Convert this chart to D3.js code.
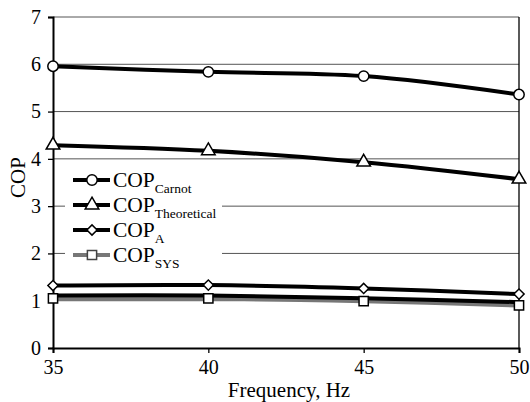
<!DOCTYPE html>
<html lang="en">
<head>
  <meta charset="UTF-8">
  <title>COP vs Frequency</title>
  <script src="https://d3js.org/d3.v7.min.js"></script>
  <style>
    body { margin: 0; background: #fff; }
    svg text { fill: #000; }
  </style>
</head>
<body>
  <div id="chart"></div>
  <script>
    // data
    var freq = [35, 40, 45, 50];
    var copCarnot = [5.96, 5.84, 5.75, 5.36];
    var copTheoretical = [4.29, 4.17, 3.93, 3.57];
    var copA = [1.32, 1.33, 1.26, 1.14];
    var copSys = [1.05, 1.05, 0.99, 0.90];
    var copSysUpper = [1.11, 1.11, 1.05, 0.97]; // black trace sitting on top of the grey one
    var yTicks = [0, 1, 2, 3, 4, 5, 6, 7];
    var xTicks = [35, 40, 45, 50];

    var serif = "'Liberation Serif', 'Times New Roman', serif";

    var margin = { top: 17, right: 11, bottom: 54, left: 53 },
      width = 530 - margin.left - margin.right,
      height = 402 - margin.top - margin.bottom;

    var svg = d3.select("#chart")
      .append("svg")
      .attr("width", 530)
      .attr("height", 402)
      .style("font-family", serif)
      .append("g")
      .attr("transform", "translate(" + margin.left + "," + margin.top + ")");

    var x = d3.scaleLinear().domain([35, 50]).range([0, width]);
    var y = d3.scaleLinear().domain([0, 7]).range([height, 0]);

    // gridlines
    svg.selectAll(".grid")
      .data(yTicks.slice(1))
      .enter()
      .append("line")
      .attr("x1", 0)
      .attr("x2", width)
      .attr("y1", function (d) { return y(d); })
      .attr("y2", function (d) { return y(d); })
      .style("stroke", "#555")
      .style("stroke-width", 1);

    // right frame
    svg.append("line")
      .attr("x1", width).attr("x2", width)
      .attr("y1", 0).attr("y2", height)
      .style("stroke", "#000").style("stroke-width", 1.3);

    // axes
    var yAxis = svg.append("g")
      .call(d3.axisLeft(y).tickValues(yTicks).tickSize(5).tickPadding(7).tickFormat(d3.format("d")));
    var xAxis = svg.append("g")
      .attr("transform", "translate(0," + height + ")")
      .call(d3.axisBottom(x).tickValues(xTicks).tickSize(5).tickPadding(7).tickFormat(d3.format("d")));

    [xAxis, yAxis].forEach(function (a) {
      a.attr("font-family", serif).attr("font-size", 20);
      a.select(".domain").style("stroke", "#000").style("stroke-width", 2);
      a.selectAll(".tick line").style("stroke", "#000").style("stroke-width", 1.3);
      a.selectAll("text").style("font-family", serif).style("font-size", "20px");
    });

    // legend background (hides the gridlines behind it)
    svg.append("rect")
      .attr("x", 12).attr("y", 147)
      .attr("width", 157).attr("height", 103)
      .style("fill", "#fff");

    var series = [
      { name: "Carnot", values: copCarnot, color: "#000", marker: "circle" },
      { name: "Theoretical", values: copTheoretical, color: "#000", marker: "triangle" },
      { name: "A", values: copA, color: "#000", marker: "diamond" },
      { name: "SYS", values: copSys, color: "#777", marker: "square" }
    ];

    var symbols = {
      circle: d3.symbol().type(d3.symbolCircle).size(85),
      triangle: d3.symbol().type(d3.symbolTriangle).size(80),
      diamond: d3.symbol().type(d3.symbolSquare).size(52),
      square: d3.symbol().type(d3.symbolSquare).size(85)
    };
    var rotate = { circle: 0, triangle: 0, diamond: 45, square: 0 };

    var line = d3.line()
      .x(function (d, i) { return x(freq[i]); })
      .y(function (d) { return y(d); })
      .curve(d3.curveCatmullRom.alpha(0.5));

    // lines
    series.forEach(function (s) {
      svg.append("path")
        .attr("d", line(s.values))
        .style("fill", "none")
        .style("stroke", s.color)
        .style("stroke-width", 4);
    });
    svg.append("path")
      .attr("d", line(copSysUpper))
      .style("fill", "none")
      .style("stroke", "#000")
      .style("stroke-width", 4);

    // markers
    series.forEach(function (s) {
      svg.selectAll(null)
        .data(s.values)
        .enter()
        .append("path")
        .attr("d", symbols[s.marker])
        .attr("transform", function (d, i) {
          return "translate(" + x(freq[i]) + "," + y(d) + ") rotate(" + rotate[s.marker] + ")";
        })
        .style("fill", "#fff")
        .style("stroke", "#000")
        .style("stroke-width", 1.5);
    });

    // legend
    var legend = svg.selectAll(".legend")
      .data(series)
      .enter()
      .append("g")
      .attr("transform", function (d, i) { return "translate(20," + (163 + i * 25) + ")"; });

    legend.append("line")
      .attr("x1", 0).attr("x2", 37)
      .style("stroke", function (d) { return d.color; })
      .style("stroke-width", 4);
    legend.append("path")
      .attr("d", function (d) { return symbols[d.marker](); })
      .attr("transform", function (d) { return "translate(19,0) rotate(" + rotate[d.marker] + ")"; })
      .style("fill", "#fff")
      .style("stroke", function (d) { return d.marker === "square" ? "#444" : "#000"; })
      .style("stroke-width", 1.5);
    var lt = legend.append("text")
      .attr("x", 40)
      .attr("y", 7)
      .style("font-family", serif)
      .style("font-size", "21.5px");
    lt.append("tspan").text("COP");
    lt.append("tspan")
      .attr("dy", 6)
      .style("font-size", "13.5px")
      .text(function (d) { return d.name; });

    // axis titles
    svg.append("text")
      .attr("x", width / 2 + 3)
      .attr("y", height + 49)
      .style("text-anchor", "middle")
      .style("font-family", serif)
      .style("font-size", "21px")
      .text("Frequency, Hz");
    svg.append("text")
      .attr("transform", "translate(-28," + (height / 2 - 5) + ") rotate(-90)")
      .style("text-anchor", "middle")
      .style("font-family", serif)
      .style("font-size", "21px")
      .text("COP");
  </script>
</body>
</html>
